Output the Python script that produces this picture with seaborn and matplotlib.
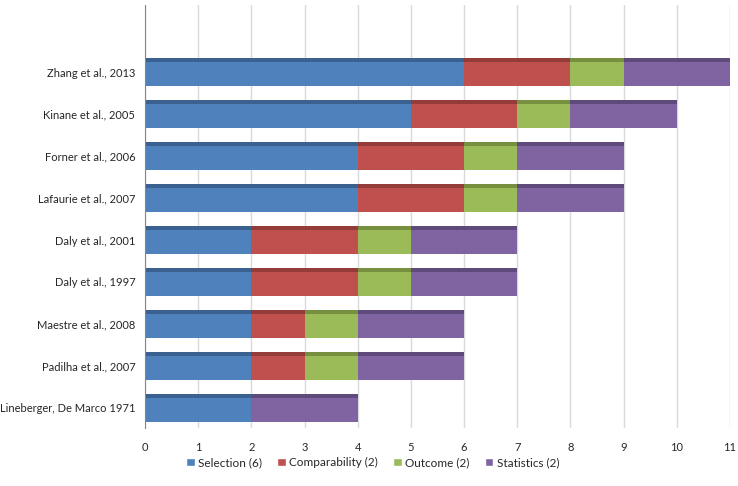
import numpy as np
import pandas as pd
import matplotlib
matplotlib.use("Agg")
import matplotlib.pyplot as plt
import seaborn as sns
from matplotlib.patches import Patch

studies = ["Zhang et al., 2013", "Kinane et al., 2005", "Forner et al., 2006",
           "Lafaurie et al., 2007", "Daly et al., 2001", "Daly et al., 1997",
           "Maestre et al., 2008", "Padilha et al., 2007", "Lineberger, De Marco 1971"]
selection = [6, 5, 4, 4, 2, 2, 2, 2, 2]
comparability = [2, 2, 2, 2, 2, 2, 1, 1, 0]
outcome = [1, 1, 1, 1, 1, 1, 1, 1, 0]
statistics = [2, 2, 2, 2, 2, 2, 2, 2, 2]

series_names = ["Selection (6)", "Comparability (2)", "Outcome (2)", "Statistics (2)"]
colors = ["#4F81BD", "#C0504D", "#9BBB59", "#8064A2"]
dark = ["#3B6191", "#943C3A", "#76903F", "#5F4A7C"]

df = pd.DataFrame({"Study": studies, "Selection": selection, "Comparability": comparability,
                   "Outcome": outcome, "Statistics": statistics})
cols = ["Selection", "Comparability", "Outcome", "Statistics"]
cum = df[cols].cumsum(axis=1)

sns.set_style("white")
plt.rcParams["font.family"] = ["Lato", "DejaVu Sans"]

fig = plt.figure(figsize=(7.38, 4.86), dpi=100)
ax = fig.add_axes([0.1965, 0.1193, 0.7925, 0.8704])

bw = 0.667
for i in range(len(cols) - 1, -1, -1):
    sns.barplot(x=cum[cols[i]], y=df["Study"], color=colors[i], orient="h",
                width=bw, saturation=1, ax=ax, linewidth=0)

# darker top strip on each segment
pos = np.arange(len(studies))
starts = cum.shift(1, axis=1).fillna(0)
for i, c in enumerate(cols):
    ax.barh(pos - bw / 2 + 0.045, df[c], left=starts[c], height=0.09,
            color=dark[i], linewidth=0)

ax.set_xlim(0, 11)
ax.set_ylim(8.48, -1.6)
ax.set_xticks(range(12))
ax.set_xlabel("")
ax.set_ylabel("")
ax.grid(axis="x", color="#D9D9D9", linewidth=1)
ax.set_axisbelow(True)
for s in ["top", "right", "bottom"]:
    ax.spines[s].set_visible(False)
ax.spines["left"].set_color("#868686")
ax.tick_params(axis="x", length=5, color="#D9D9D9", labelsize=8, pad=5)
ax.tick_params(axis="y", length=0, labelsize=8, pad=7)

handles = [Patch(facecolor=c, label=n) for c, n in zip(colors, series_names)]
fig.legend(handles=handles, loc="center", bbox_to_anchor=(0.505, 0.048), ncol=4,
           frameon=False, fontsize=8.5, handlelength=0.7, handleheight=0.7,
           handletextpad=0.3, columnspacing=1.3)

fig.savefig("out.png", dpi=100)
